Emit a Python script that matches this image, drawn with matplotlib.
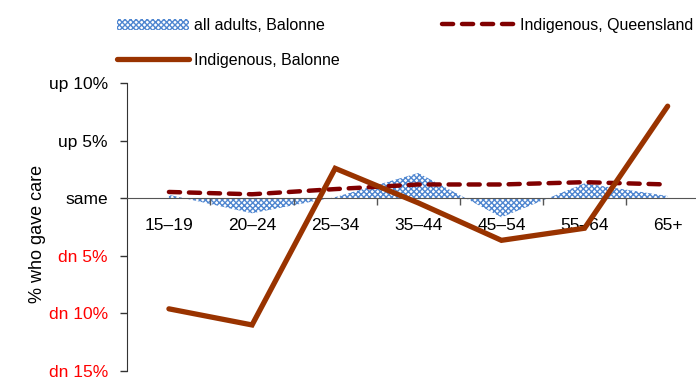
import numpy as np
import matplotlib
matplotlib.use('Agg')
import matplotlib.pyplot as plt

# age groups on the category axis
ages = ['15–19', '20–24', '25–34', '35–44', '45–54', '55–64', '65+']

# change in % who gave care (percentage points)
all_adults_balonne = [0.3, -1.3, 0.1, 2.2, -1.65, 1.3, 0.2]
indig_queensland = [0.55, 0.35, 0.8, 1.2, 1.2, 1.4, 1.2]
indig_balonne = [-9.6, -11.0, 2.6, -0.4, -3.65, -2.6, 8.0]

ytick_vals = [10, 5, 0, -5, -10, -15]
ytick_labels = ['up 10%', 'up 5%', 'same', 'dn 5%', 'dn 10%', 'dn 15%']
ytick_colors = ['black', 'black', 'black', 'red', 'red', 'red']

plt.rcParams['font.family'] = ['Liberation Sans', 'DejaVu Sans']
plt.rcParams['hatch.linewidth'] = 1.0

fig = plt.figure(figsize=(6.96, 3.78), dpi=100)
ax = fig.add_axes([0.183, 0.0185, 0.836, 0.7615])

x = np.arange(len(ages))

area = ax.fill_between(x, 0, all_adults_balonne, facecolor='white',
                       edgecolor='#4F86D0', hatch='xxxxxx', linewidth=0,
                       label='all adults, Balonne', zorder=1)
dashed, = ax.plot(x, indig_queensland, color='#800000', lw=3.2,
                  dashes=(2.5, 2), dash_capstyle='round',
                  label='Indigenous, Queensland', zorder=3)
brown, = ax.plot(x, indig_balonne, color='#993300', lw=3.8,
                 solid_capstyle='round', solid_joinstyle='miter',
                 label='Indigenous, Balonne', zorder=4)

ax.set_xlim(-0.5, 6.5)
ax.set_ylim(-15, 10)

ax.spines['top'].set_visible(False)
ax.spines['right'].set_visible(False)
ax.spines['bottom'].set_position(('data', 0))
ax.spines['bottom'].set_color('#555555')
ax.spines['left'].set_color('#333333')

ax.set_yticks(ytick_vals)
ax.set_yticklabels(ytick_labels, fontsize=12.5)
for lab, c in zip(ax.get_yticklabels(), ytick_colors):
    lab.set_color(c)
ax.tick_params(axis='y', length=5, width=1, color='#333333', pad=9)

ax.set_xticks(x[:-1] + 0.5)
ax.set_xticklabels([])
ax.set_xticks(x, minor=True)
ax.set_xticklabels(ages, minor=True, fontsize=12.5)
ax.tick_params(axis='x', which='major', length=5, width=1, color='#555555')
ax.tick_params(axis='x', which='minor', length=0, pad=14)

ax.set_ylabel('% who gave care', fontsize=13)
ax.yaxis.set_label_coords(-0.14, 0.476)

fig.legend(handles=[area, brown, dashed], loc='upper left',
           bbox_to_anchor=(117 / 696, 1 - 18 / 378), ncol=2, frameon=False,
           fontsize=11.5, handlelength=4.5, handletextpad=0.35,
           columnspacing=6.4, labelspacing=1.25, borderpad=0,
           borderaxespad=0)

fig.savefig('out.png', dpi=100)
